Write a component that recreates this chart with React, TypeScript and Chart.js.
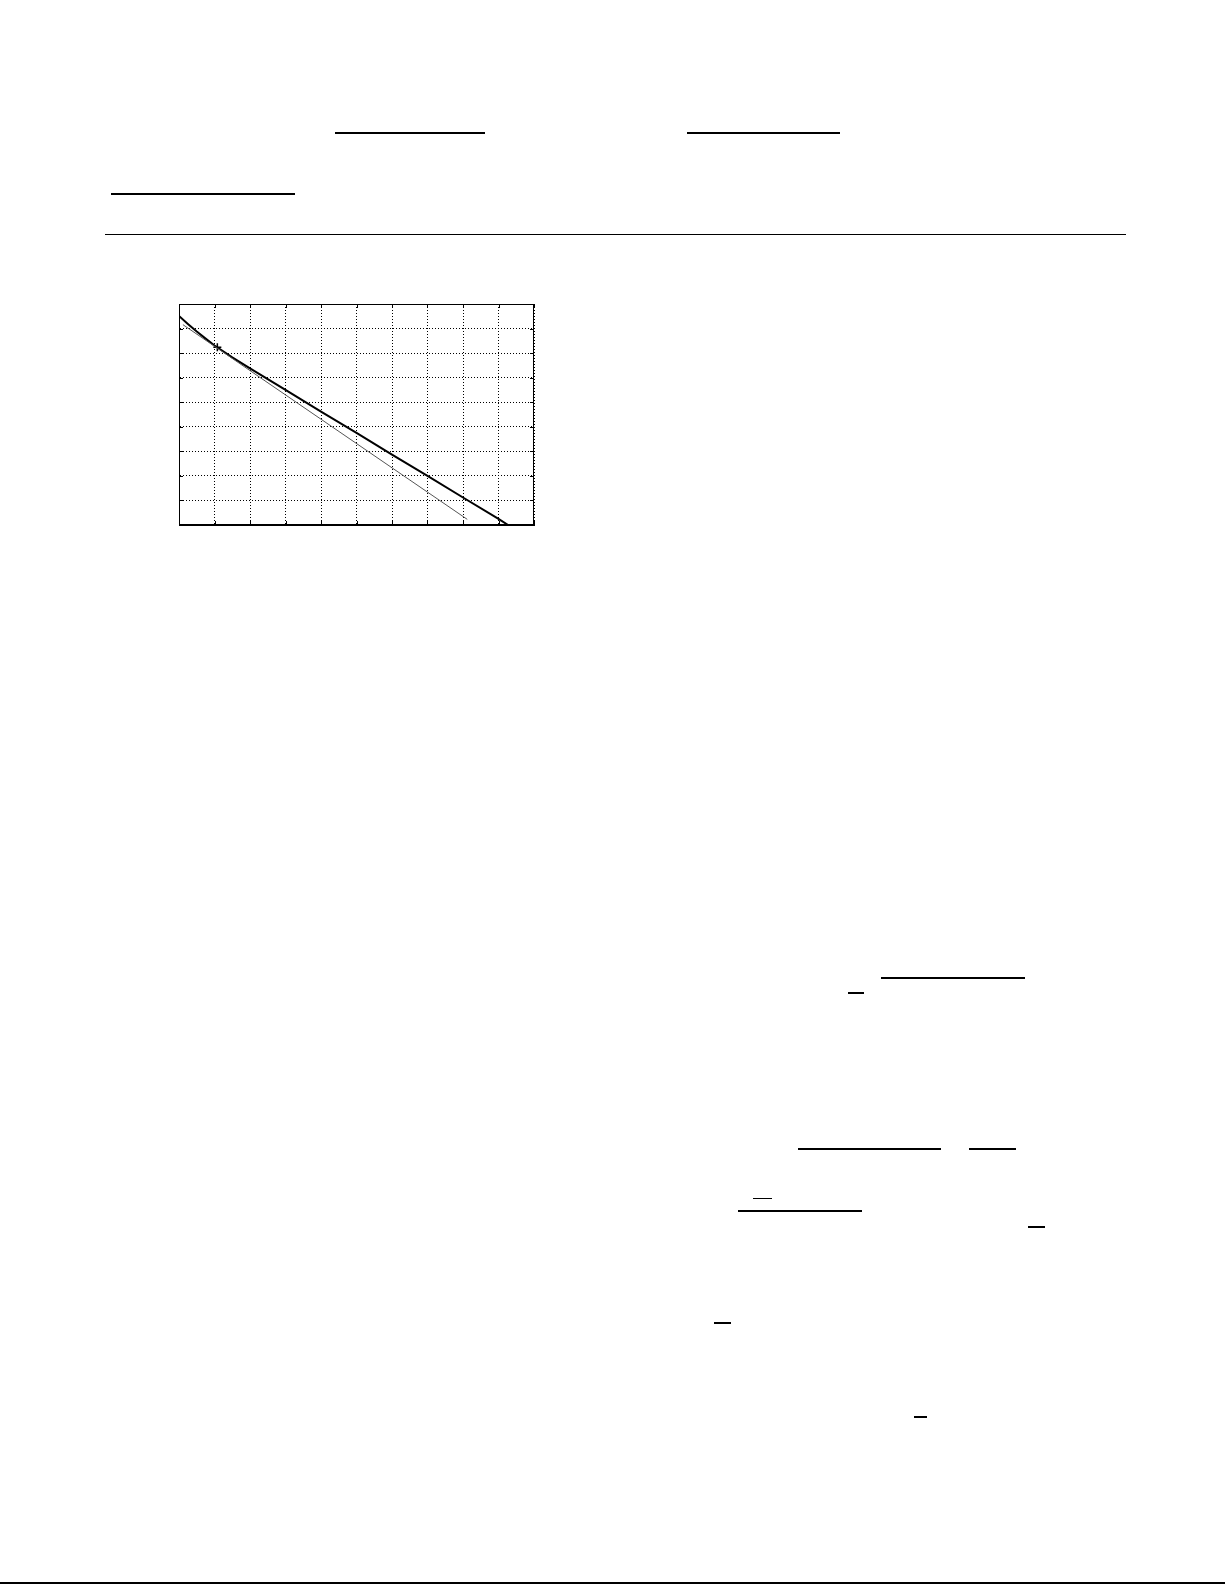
import { useEffect, useRef } from "react";
import { Chart, registerables, Plugin } from "chart.js";

Chart.register(...registerables);

// grid steps (tick labels are blank in the source)
const xTicks = [0, 1, 2, 3, 4, 5, 6, 7, 8, 9, 10];
const yTicks = [0, 1, 2, 3, 4, 5, 6, 7, 8, 9];

// thick curve
const curveX = [0, 0.25, 0.5, 0.75, 1.0, 1.5, 2, 3, 4, 5, 6, 7, 8, 9, 9.27];
const curveY = [8.51, 8.19, 7.88, 7.59, 7.31, 6.83, 6.38, 5.5, 4.62, 3.75, 2.87, 2.0, 1.12, 0.25, 0.0];

// thin straight line
const lineX = [0.11, 8.12];
const lineY = [8.16, 0.23];

// the "+" marker
const markX = [1.08];
const markY = [7.24];

// rules left on the page (fraction bars, header rule, footer rule)
const rules = [
  { x: 335, y: 131.5, w: 150, h: 2 },
  { x: 687, y: 131.5, w: 153, h: 2 },
  { x: 111, y: 193, w: 184, h: 2 },
  { x: 105, y: 234, w: 1021, h: 1 },
  { x: 881, y: 977, w: 144, h: 2 },
  { x: 848, y: 992, w: 16, h: 2 },
  { x: 798, y: 1148, w: 143, h: 2 },
  { x: 969, y: 1148, w: 47, h: 2 },
  { x: 753, y: 1197.5, w: 19, h: 1 },
  { x: 738, y: 1210, w: 124, h: 2 },
  { x: 1028, y: 1226, w: 17, h: 2 },
  { x: 714, y: 1322, w: 17, h: 2 },
  { x: 914, y: 1416, w: 13, h: 2 },
  { x: 0, y: 1582, w: 1225, h: 1.5 },
];

const toPoints = (xs: number[], ys: number[]) => xs.map((x, i) => ({ x, y: ys[i] }));

// solid frame plus inward ticks on all four sides
const framePlugin: Plugin = {
  id: "frame",
  afterDraw(chart) {
    const { ctx, chartArea: a, scales } = chart;
    const tick = 4;
    ctx.save();
    ctx.strokeStyle = "#000";
    ctx.lineWidth = 1;
    ctx.setLineDash([]);
    ctx.strokeRect(a.left + 0.5, a.top + 0.5, a.right - a.left - 1, a.bottom - a.top - 1);
    ctx.beginPath();
    xTicks.forEach((t) => {
      const px = Math.round(scales.x.getPixelForValue(t)) + 0.5;
      ctx.moveTo(px, a.bottom);
      ctx.lineTo(px, a.bottom - tick);
      ctx.moveTo(px, a.top);
      ctx.lineTo(px, a.top + tick);
    });
    yTicks.forEach((t) => {
      const py = Math.round(scales.y.getPixelForValue(t)) + 0.5;
      ctx.moveTo(a.left, py);
      ctx.lineTo(a.left + tick, py);
      ctx.moveTo(a.right, py);
      ctx.lineTo(a.right - tick, py);
    });
    ctx.stroke();
    ctx.restore();
  },
};

const PlotBox = () => {
  const canvasRef = useRef<HTMLCanvasElement>(null);

  useEffect(() => {
    if (!canvasRef.current) return;
    const chart = new Chart(canvasRef.current, {
      type: "scatter",
      data: {
        datasets: [
          {
            data: toPoints(lineX, lineY),
            showLine: true,
            borderColor: "#555555",
            borderWidth: 1,
            pointRadius: 0,
          },
          {
            data: toPoints(curveX, curveY),
            showLine: true,
            borderColor: "#000000",
            borderWidth: 2,
            pointRadius: 0,
          },
          {
            data: toPoints(markX, markY),
            pointStyle: "cross",
            pointRadius: 4,
            borderColor: "#000000",
            borderWidth: 1.5,
          },
        ],
      },
      options: {
        responsive: false,
        animation: false,
        layout: { padding: 2, autoPadding: false },
        plugins: {
          legend: { display: false },
          tooltip: { enabled: false },
        },
        scales: {
          x: {
            type: "linear",
            min: xTicks[0],
            max: xTicks[xTicks.length - 1],
            ticks: { display: false, stepSize: 1 },
            grid: { color: "#000", lineWidth: 1, drawTicks: false },
            border: { display: true, color: "#000", dash: [1, 2] },
            afterFit: (scale) => {
              scale.height = 0;
              scale.paddingLeft = 0;
              scale.paddingRight = 0;
            },
          },
          y: {
            type: "linear",
            min: yTicks[0],
            max: yTicks[yTicks.length - 1],
            ticks: { display: false, stepSize: 1 },
            grid: { color: "#000", lineWidth: 1, drawTicks: false },
            border: { display: true, color: "#000", dash: [1, 2] },
            afterFit: (scale) => {
              scale.width = 0;
              scale.paddingTop = 0;
              scale.paddingBottom = 0;
            },
          },
        },
      },
      plugins: [framePlugin],
    });
    return () => chart.destroy();
  }, []);

  return (
    <div style={{ position: "absolute", left: 177, top: 302, width: 359, height: 225 }}>
      <canvas ref={canvasRef} width={359} height={225} />
    </div>
  );
};

export default function App() {
  return (
    <div
      style={{
        position: "absolute",
        left: 0,
        top: 0,
        width: 1225,
        height: 1585,
        background: "#fff",
        overflow: "hidden",
      }}
    >
      {rules.map((r, i) => (
        <div
          key={i}
          style={{ position: "absolute", left: r.x, top: r.y, width: r.w, height: r.h, background: "#000" }}
        />
      ))}
      <PlotBox />
    </div>
  );
}
